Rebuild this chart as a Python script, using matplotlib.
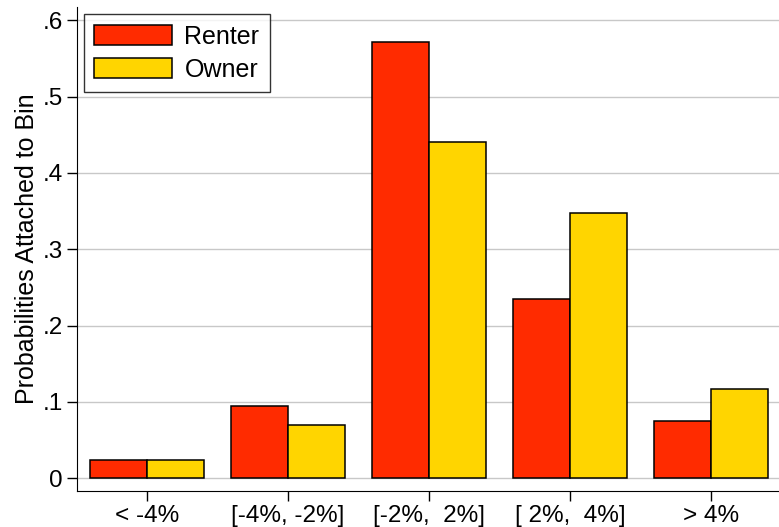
import numpy as np
import matplotlib.pyplot as plt

plt.rcParams['font.family'] = ['Liberation Sans', 'DejaVu Sans']

bins = ["< -4%", "[-4%, -2%]", "[-2%,  2%]", "[ 2%,  4%]", "> 4%"]
renter = [0.0236, 0.0946, 0.5715, 0.235, 0.0754]
owner = [0.0236, 0.0702, 0.440, 0.347, 0.1165]

col_renter = "#FF2B00"
col_owner = "#FFD500"

fig = plt.figure(figsize=(7.79, 5.27), dpi=100)
ax = fig.add_axes([0.0988, 0.0683, 0.9012, 0.918])

x = np.arange(len(bins))
w = 0.404
ax.bar(x - w / 2, renter, w, color=col_renter, edgecolor="black", linewidth=1.1, label="Renter", zorder=3)
ax.bar(x + w / 2, owner, w, color=col_owner, edgecolor="black", linewidth=1.1, label="Owner", zorder=3)

ax.set_xlim(-0.497, 4.48)
ax.set_ylim(-0.0166, 0.617)
ax.set_xticks(x)
ax.set_xticklabels(bins, fontsize=17.5)
ax.set_yticks([0, 0.1, 0.2, 0.3, 0.4, 0.5, 0.6])
ax.set_yticklabels(["0", ".1", ".2", ".3", ".4", ".5", ".6"], fontsize=17.5)
ax.tick_params(axis="both", direction="out", length=7, width=1, pad=3)
ax.set_ylabel("Probabilities Attached to Bin", fontsize=18, labelpad=3)

ax.grid(axis="y", color="#c8c8c8", linewidth=1, zorder=0)
ax.spines["top"].set_visible(False)
ax.spines["right"].set_visible(False)

leg = ax.legend(loc="upper left", fontsize=18, frameon=True, fancybox=False,
                edgecolor="black", handlelength=3.1, handleheight=0.85,
                borderpad=0.42, labelspacing=0.36, handletextpad=0.5,
                bbox_to_anchor=(0.0099, 0.985), borderaxespad=0)
leg.get_frame().set_linewidth(1)

fig.savefig("out.png", dpi=100)
